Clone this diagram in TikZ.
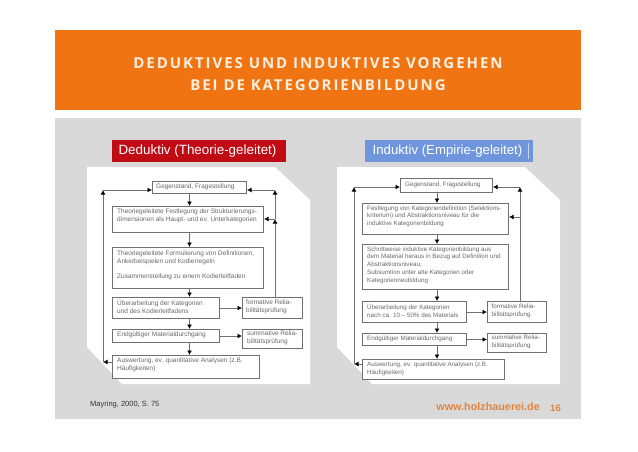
\documentclass[tikz,border=0pt]{standalone}
\usepackage{fontspec}
\setmainfont{Liberation Sans}
\newfontfamily\titlefont[LetterSpace=13]{Open Sans}
\usetikzlibrary{arrows.meta}
\definecolor{orangebar}{HTML}{F07412}
\definecolor{panelgrey}{HTML}{D9D9D9}
\definecolor{redhead}{HTML}{C00A14}
\definecolor{bluehead}{HTML}{6F95DC}
\definecolor{linegrey}{HTML}{707070}
\definecolor{txtgrey}{HTML}{686868}
\definecolor{urlorange}{HTML}{E08540}
\definecolor{titlecream}{HTML}{FCEFDF}
\tikzset{
  flowbox/.style={draw=linegrey,line width=1pt,fill=white,inner sep=0pt,anchor=north west},
  boxtext/.style={text=txtgrey,align=left,anchor=north west,inner sep=0pt},
  lefttext/.style={boxtext,font=\fontsize{6.5}{7.9}\selectfont},
  righttext/.style={boxtext,font=\fontsize{6.25}{7.7}\selectfont},
  flow/.style={draw=linegrey,line width=1pt,-{Latex[length=4.5pt,width=5pt,black]}},
  headbox/.style={inner sep=0pt,text=white,minimum height=22pt},
  paper/.style={fill=white,draw=none},
}
% name, x1, y1, x2, y2, text style, dx, dy, text
\newcommand{\fbx}[9]{\node[flowbox,minimum width=#4pt-#2pt,minimum height=#5pt-#3pt] (#1) at (#2,#3) {};
  \node[#6] (#1t) at ([xshift=#7pt,yshift=-#8pt]#1.north west) {#9};}
\begin{document}
\begin{tikzpicture}[x=1pt,y=-1pt]
\useasboundingbox (0,0) rectangle (638,451);
\fill[white] (0,0) rectangle (638,451);
\fill[orangebar] (55,30) rectangle (581,110);
\fill[panelgrey] (55,118) rectangle (581,419);
\node[text=titlecream,font=\titlefont\bfseries\fontsize{15}{22}\selectfont,align=center,inner sep=0pt] (title) at (318,74) {DEDUKTIVES UND INDUKTIVES VORGEHEN\\BEI DE KATEGORIENBILDUNG};
% headers
\node[headbox,fill=redhead,minimum width=174pt,font=\fontsize{13.4}{15}\selectfont] (hl) at (199,151) {\hspace*{-3pt}Deduktiv (Theorie-geleitet)};
\node[headbox,fill=bluehead,minimum width=168pt,font=\fontsize{13.2}{15}\selectfont] (hr) at (449,151) {\hspace*{-3pt}Induktiv (Empirie-geleitet)};
\fill[white,opacity=.6] (528,143) rectangle (528.8,159);
% papers
\fill[paper] (87,167) -- (275,167) -- (310,200) -- (310,384) -- (122,384) -- (87,347) -- cycle;
\fill[paper] (337,167) -- (525,167) -- (560,200) -- (560,384) -- (372,384) -- (337,347) -- cycle;
% left flow
\fbx{lA}{152}{181}{246}{193}{lefttext}{4}{3}{Gegenstand, Fragestellung}
\fbx{lB}{112}{206}{263}{232}{lefttext}{5}{3}{Theoriegeleitete Festlegung der Strukturierungs-\\dimensionen als Haupt- und ev. Unterkategorien}
\fbx{lC}{112}{247}{263}{288}{lefttext}{5}{3.5}{Theoriegeleitete Formulierung von Definitionen,\\Ankerbeispielen und Kodierregeln\\[7pt]Zusammenstellung zu einem Kodierleitfaden}
\fbx{lD}{112}{297}{219}{318}{lefttext}{5}{3}{Überarbeitung der Kategorien\\und des Kodierleitfadens}
\fbx{lE}{242}{297}{302}{318}{lefttext}{4}{3}{formative Relia-\\bilitätsprüfung}
\fbx{lF}{112}{329}{219}{342}{lefttext}{5}{3}{Endgültiger Materialdurchgang}
\fbx{lG}{242}{329}{302}{348}{lefttext}{5}{2}{summative Relia-\\bilitätsprüfung}
\fbx{lH}{112}{355}{259}{378}{lefttext}{5}{3}{Auswertung, ev. quantitative Analysen (z.B.\\Häufigkeiten)}
\coordinate (lV) at (189.5,200);
\coordinate (lLb) at (103,362);
\coordinate (lLt) at (103,190);
\coordinate (lRt) at (275,190);
\coordinate (lRm) at (275,219);
\draw[flow] (lA.south -| lV) -- (lB.north -| lV);
\draw[flow] (lB.south -| lV) -- (lC.north -| lV);
\draw[flow] (lC.south -| lV) -- (lD.north -| lV);
\draw[flow] (lD.south -| lV) -- (lF.north -| lV);
\draw[flow] (lF.south -| lV) -- (lH.north -| lV);
\draw[flow] (lD.east) -- (lE.west);
\draw[flow] (lF.east) -- (lF.east -| lG.west);
\draw[flow] (lH.west |- lLb) -- (lLb);
\draw[flow] (lLb) -- (lLt);
\draw[flow] (lLt) -- (lLt -| lA.west);
\draw[flow] (lE.north -| lRt) -- (lRm);
\draw[flow] (lRm) -- (lRt);
\draw[flow] (lRt) -- (lRt -| lA.east);
\draw[flow] (lRm) -- (lRm -| lB.east);
% right flow
\fbx{rA}{400}{178}{492}{192}{righttext}{5}{3.5}{Gegenstand, Fragestellung}
\fbx{rB}{362}{203}{508}{234}{righttext}{5}{2.5}{Festlegung von Kategoriendefinition (Selektions-\\kriterium) und Abstraktionsniveau für die\\induktive Kategorienbildung}
\fbx{rC}{362}{244}{508}{289}{righttext}{5}{2.5}{Schrittweise induktive Kategorienbildung aus\\dem Material heraus in Bezug auf Definition und\\Abstraktionsniveau;\\Subsumtion unter alte Kategorien oder\\Kategorienneubildung}
\fbx{rD}{362}{301}{466}{322}{righttext}{5}{3}{Überarbeitung der Kategorien\\nach ca. 10 – 50\% des Materials}
\fbx{rE}{487}{301}{546}{322}{righttext}{4.5}{3}{formative Relia-\\bilitätsprüfung}
\fbx{rF}{362}{333}{466}{345}{righttext}{5}{2.5}{Endgültiger Materialdurchgang}
\fbx{rG}{487}{333}{546}{352}{righttext}{4.5}{2}{summative Relia-\\bilitätsprüfung}
\fbx{rH}{362}{359}{504}{379}{righttext}{5}{3}{Auswertung, ev. quantitative Analysen (z.B.\\Häufigkeiten)}
\coordinate (rV) at (437,200);
\coordinate (rLb) at (354,364);
\coordinate (rLt) at (354,187);
\coordinate (rRt) at (520,187);
\coordinate (rRm) at (520,217);
\draw[flow] (rA.south -| rV) -- (rB.north -| rV);
\draw[flow] (rB.south -| rV) -- (rC.north -| rV);
\draw[flow] (rC.south -| rV) -- (rD.north -| rV);
\draw[flow] (rD.south -| rV) -- (rF.north -| rV);
\draw[flow] (rF.south -| rV) -- (rH.north -| rV);
\draw[flow] (rD.east) -- (rE.west);
\draw[flow] (rF.east) -- (rF.east -| rG.west);
\draw[flow] (rH.west |- rLb) -- (rLb);
\draw[flow] (rLb) -- (rLt);
\draw[flow] (rLt) -- (rLt -| rA.west);
\draw[flow] (rE.north -| rRt) -- (rRt);
\draw[flow] (rRt) -- (rRt -| rA.east);
\draw[flow] (rRm) -- (rRm -| rB.east);
% footer
\node[anchor=west,inner sep=0pt,text=black!80,font=\fontsize{7.5}{9}\selectfont] (src) at (90,405) {Mayring, 2000, S. 75};
\node[anchor=east,inner sep=0pt,text=urlorange,font=\bfseries\fontsize{10.8}{12}\selectfont] (url) at (540,407) {www.holzhauerei.de};
\node[anchor=east,inner sep=0pt,text=urlorange,font=\bfseries\fontsize{9.5}{11}\selectfont] (pg) at (561,408.5) {16};
\end{tikzpicture}
\end{document}
